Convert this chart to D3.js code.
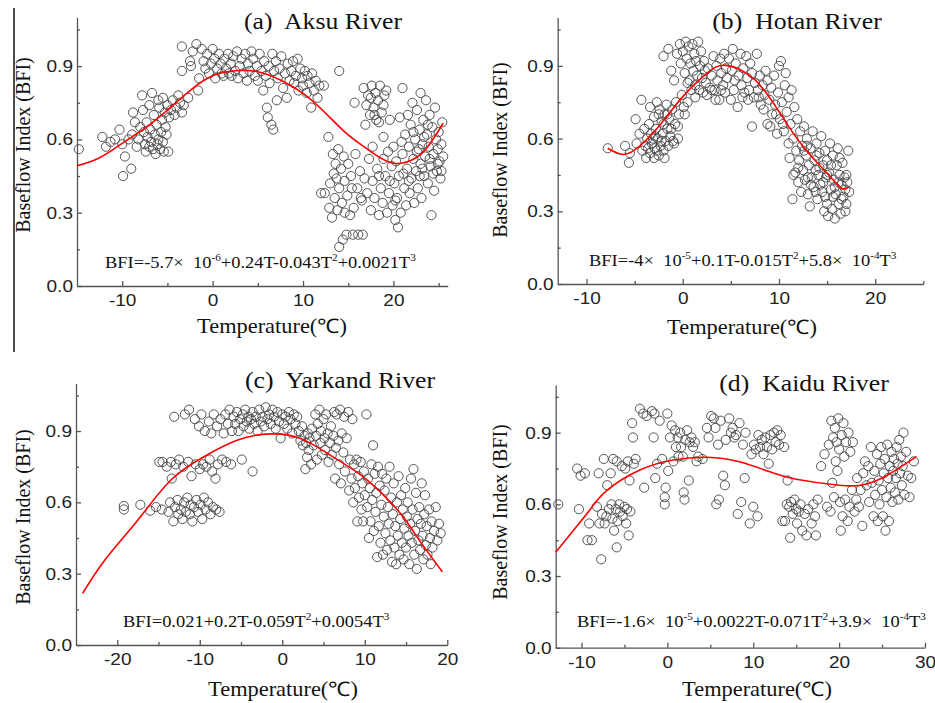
<!DOCTYPE html>
<html lang="en">
<head>
<meta charset="UTF-8">
<title>Baseflow index vs temperature</title>
<script src="https://d3js.org/d3.v7.min.js"></script>
<style>
  body { margin: 0; background: #ffffff; }
  svg { display: block; }
  .serif { font-family: "Liberation Serif", "Times New Roman", serif; fill: #111; }
  .axis path, .axis line { stroke: #555; stroke-width: 1.3; }
  .axis text { font-family: "Liberation Sans", Arial, sans-serif; font-size: 17px; fill: #222; }
</style>
</head>
<body>
<svg id="chart" width="935" height="703"></svg>
<script>
// ---- data: [temperature, BFI] ----
const aksuPoints = [[-14.8,0.56],[-12.2,0.61],[-11.8,0.57],[-11.3,0.59],[-10.8,0.60],[-10.3,0.64],[-10.0,0.58],[-9.9,0.45],[-9.7,0.53],[-9.3,0.60],[-9.0,0.48],[-8.9,0.62],[-8.8,0.71],[-8.6,0.67],[-8.4,0.57],[-8.2,0.60],[-8.0,0.65],[-7.8,0.78],[-7.7,0.72],[-7.6,0.63],[-7.5,0.58],[-7.4,0.55],[-7.3,0.67],[-7.2,0.61],[-7.0,0.57],[-7.0,0.74],[-6.9,0.64],[-6.8,0.59],[-6.7,0.79],[-6.6,0.56],[-6.5,0.70],[-6.4,0.62],[-6.3,0.54],[-6.2,0.66],[-6.1,0.58],[-6.0,0.76],[-6.0,0.60],[-5.9,0.73],[-5.8,0.56],[-5.7,0.63],[-5.6,0.68],[-5.5,0.77],[-5.5,0.59],[-5.4,0.55],[-5.3,0.71],[-5.2,0.65],[-5.1,0.62],[-5.0,0.74],[-4.9,0.55],[-4.8,0.69],[-4.6,0.72],[-4.4,0.76],[-4.2,0.70],[-4.0,0.73],[-3.8,0.78],[-3.6,0.75],[-3.4,0.71],[-3.2,0.74],
  [-3.4,0.98],[-3.4,0.88],[-2.7,0.77],[-2.5,0.92],[-2.4,0.90],[-2.2,0.96],[-1.8,0.99],[-1.6,0.80],[-1.5,0.85],[-1.2,0.97],[-1.0,0.92],[-0.8,0.89],[-0.6,0.95],[-0.4,0.87],[-0.2,0.91],[0.0,0.97],[0.2,0.93],[0.3,0.85],[0.5,0.89],[0.7,0.95],[0.9,0.91],[1.0,0.87],[1.2,0.86],[1.3,0.93],[1.5,0.89],[1.7,0.95],[1.8,0.87],[2.0,0.91],[2.1,0.86],[2.3,0.94],[2.5,0.88],[2.7,0.96],[2.8,0.85],[3.0,0.90],[3.2,0.93],[3.4,0.87],[3.6,0.95],[3.8,0.84],[3.9,0.91],[4.1,0.88],[4.3,0.96],[4.5,0.93],[4.7,0.86],[4.9,0.90],[5.0,0.84],[5.2,0.95],[5.4,0.88],[5.6,0.80],[5.7,0.92],[5.9,0.86],[6.0,0.73],[6.1,0.69],[6.2,0.90],[6.3,0.83],[6.5,0.66],[6.6,0.95],[6.7,0.64],[6.8,0.88],[7.0,0.92],[7.1,0.76],[7.2,0.85],[7.4,0.89],[7.6,0.94],[7.8,0.81],[8.0,0.87],[8.2,0.77],[8.3,0.91],[8.5,0.84],[8.7,0.88],[8.9,0.92],[9.0,0.83],[9.2,0.86],[9.4,0.93],[9.5,0.80],[9.7,0.89],[9.9,0.85],[10.0,0.82],[10.2,0.88],[10.4,0.79],[10.5,0.86],[10.7,0.83],[10.9,0.73],[11.0,0.87],[11.2,0.80],[11.4,0.84],[11.6,0.77],[11.8,0.82],[12.3,0.82],[14.0,0.88],
  [12.0,0.38],[12.4,0.38],[12.8,0.61],[12.9,0.32],[13.0,0.42],[13.2,0.28],[13.3,0.54],[13.4,0.46],[13.5,0.36],[13.6,0.50],[13.8,0.31],[13.9,0.56],[14.0,0.16],[14.0,0.40],[14.2,0.48],[14.3,0.34],[14.4,0.19],[14.5,0.53],[14.6,0.43],[14.8,0.21],[14.9,0.37],[15.0,0.50],[15.2,0.29],[15.3,0.45],[15.5,0.21],[15.6,0.32],[15.7,0.75],[15.8,0.54],[16.0,0.40],[16.1,0.21],[16.3,0.47],[16.5,0.35],[16.6,0.21],[16.7,0.81],[16.8,0.44],[16.9,0.66],[17.0,0.74],[17.1,0.38],[17.2,0.78],[17.3,0.52],[17.4,0.70],[17.5,0.31],[17.6,0.82],[17.7,0.43],[17.8,0.73],[17.9,0.36],[18.0,0.79],[18.1,0.68],[18.2,0.48],[18.3,0.76],[18.4,0.29],[18.5,0.82],[18.6,0.40],[18.7,0.71],[18.8,0.34],[18.9,0.61],[19.0,0.78],[19.1,0.45],[19.2,0.80],[19.3,0.30],[19.4,0.55],[19.5,0.38],[19.6,0.68],[19.8,0.49],[19.9,0.33],[20.0,0.57],[20.1,0.42],[20.2,0.27],[20.3,0.51],[20.4,0.36],[20.5,0.24],[20.6,0.45],[20.7,0.69],[20.8,0.30],[21.0,0.81],[21.0,0.54],[21.2,0.40],[21.3,0.62],[21.4,0.33],[21.5,0.48],[21.6,0.70],[21.7,0.57],[21.8,0.38],[21.9,0.66],[22.0,0.44],[22.1,0.75],[22.2,0.52],[22.3,0.34],[22.4,0.60],[22.5,0.47],[22.6,0.72],[22.7,0.40],[22.8,0.56],[22.9,0.64],[23.0,0.79],[23.0,0.50],[23.1,0.36],[23.2,0.58],[23.3,0.68],[23.4,0.45],[23.5,0.53],[23.6,0.76],[23.7,0.62],[23.8,0.42],[23.9,0.57],[24.0,0.70],[24.1,0.49],[24.2,0.29],[24.3,0.65],[24.4,0.54],[24.5,0.39],[24.6,0.73],[24.7,0.60],[24.8,0.47],[24.9,0.56],[25.0,0.63],[25.1,0.51],[25.2,0.44],[25.3,0.47],[25.4,0.67],[25.5,0.53],
  [21.1,0.46],[21.7,0.43],[22.2,0.63],[22.9,0.45],[23.4,0.61],[23.8,0.66],[24.4,0.46],[24.9,0.50],[25.3,0.58],[24.0,0.52],[23.2,0.48],[22.6,0.55],[20.9,0.59],[20.2,0.35],[19.6,0.43],[18.9,0.52],[18.4,0.45],[17.7,0.57],[16.4,0.36],[15.4,0.40],[14.6,0.30],[13.7,0.44],[17.9,0.70],[18.4,0.67],[18.9,0.74],[17.5,0.77]];

const hotanPoints = [[-7.8,0.56],[-6.0,0.57],[-5.6,0.50],[-5.5,0.54],[-4.9,0.68],[-4.8,0.58],[-4.5,0.62],[-4.3,0.76],[-4.2,0.55],[-4.0,0.64],[-3.9,0.57],[-3.8,0.52],[-3.7,0.60],[-3.5,0.66],[-3.4,0.54],[-3.3,0.62],[-3.2,0.58],[-3.0,0.52],[-3.0,0.69],[-2.9,0.56],[-2.8,0.64],[-2.7,0.75],[-2.6,0.60],[-2.5,0.53],[-2.4,0.72],[-2.3,0.57],[-2.2,0.67],[-2.1,0.62],[-2.0,0.94],[-2.0,0.55],[-1.9,0.70],[-1.8,0.59],[-1.7,0.74],[-1.6,0.64],[-1.5,0.97],[-1.5,0.57],[-1.4,0.68],[-1.3,0.61],[-1.2,0.88],[-1.1,0.72],[-1.0,0.59],[-0.9,0.84],[-0.8,0.66],[-0.7,0.75],[-0.6,0.95],[-0.5,0.65],[-0.4,0.70],[-0.3,0.99],[-0.2,0.91],[-0.1,0.78],[0.0,0.96],[0.1,0.73],[0.2,0.87],[0.3,1.0],[0.4,0.93],[0.5,0.75],[0.6,0.98],[0.7,0.84],[0.8,0.91],[0.9,0.80],[1.0,0.99],[1.1,0.88],[1.2,0.95],[1.3,0.82],[1.4,0.92],[1.5,0.86],[1.6,1.0],[1.7,0.80],[1.8,0.90],[1.9,0.96],[2.0,0.85],[2.1,0.79],[2.2,0.92],[2.3,0.88],[2.4,0.83],[2.6,0.89],[2.8,0.81],[3.0,0.86],[3.2,0.94],[3.3,0.80],[3.5,0.90],[3.6,0.84],[3.8,0.76],[3.9,0.93],[4.0,0.87],[4.2,0.82],[4.3,0.95],[4.5,0.89],[4.6,0.85],[4.8,0.93],[5.0,0.76],[5.1,0.88],[5.2,0.97],[5.4,0.84],[5.5,0.91],[5.7,0.73],[5.8,0.86],[6.0,0.95],[6.1,0.82],[6.3,0.89],[6.4,0.79],[6.6,0.94],[6.7,0.85],[6.9,0.80],[7.0,0.91],[7.2,0.65],[7.2,0.87],[7.4,0.77],[7.5,0.83],[7.7,0.95],[7.8,0.80],[8.0,0.86],[8.1,0.74],[8.3,0.82],[8.5,0.78],[8.6,0.88],[8.8,0.66],[8.8,0.84],[9.0,0.76],[9.2,0.81],[9.3,0.70],[9.5,0.86],[9.6,0.74],[9.8,0.62],[9.9,0.79],[10.0,0.90],[10.1,0.68],[10.2,0.92],[10.3,0.75],[10.5,0.63],[10.6,0.82],[10.7,0.87],[10.8,0.71],[11.0,0.58],[11.0,0.77],[11.2,0.66],[11.3,0.80],[11.4,0.35],[11.5,0.60],[11.6,0.73],[11.7,0.46],[11.8,0.55],[11.9,0.68],[12.0,0.42],[12.1,0.51],[12.2,0.63],[12.3,0.38],[12.4,0.57],[12.5,0.47],[12.6,0.65],[12.7,0.43],[12.8,0.53],[12.9,0.60],[13.0,0.37],[13.1,0.49],[13.2,0.32],[13.3,0.56],[13.4,0.44],[13.5,0.63],[13.6,0.40],[13.7,0.51],[13.8,0.47],[13.9,0.58],[14.0,0.35],[14.1,0.45],[14.2,0.54],[14.3,0.41],[14.4,0.61],[14.5,0.38],[14.6,0.49],[14.7,0.30],[14.8,0.55],[14.9,0.44],[15.0,0.33],[15.0,0.51],[15.1,0.28],[15.2,0.46],[15.3,0.58],[15.4,0.39],[15.5,0.31],[15.6,0.53],[15.7,0.43],[15.8,0.27],[15.9,0.37],[16.0,0.49],[16.1,0.56],[16.2,0.33],[16.3,0.45],[16.4,0.29],[16.5,0.41],[16.6,0.50],[16.7,0.36],[16.8,0.44],[16.9,0.39],[17.0,0.33],[17.1,0.42],[17.2,0.55],[17.3,0.38],
  [-3.6,0.56],[-3.1,0.60],[-2.7,0.55],[-2.2,0.59],[-1.9,0.52],[-1.2,0.64],[-0.9,0.58],[-0.5,0.60],[-2.5,0.70],[-2.0,0.66],[-1.6,0.70],[-3.4,0.73],[-2.9,0.61],[0.2,0.70],[0.5,0.83],[1.3,0.77],[2.5,0.78],[3.0,0.80],[3.4,0.76],[4.0,0.80],[4.4,0.79],[5.3,0.80],[6.2,0.77],[6.8,0.76],[7.9,0.77],[8.4,0.72],[9.1,0.65],[9.7,0.70],[10.4,0.66],[11.1,0.52],[11.5,0.45],[12.0,0.48],[12.6,0.55],[13.0,0.44],[13.3,0.41],[13.8,0.38],[14.2,0.48],[14.6,0.42],[15.0,0.45],[15.4,0.49],[15.8,0.40],[16.2,0.42],[16.5,0.35],[16.9,0.30],[17.0,0.45],[16.3,0.52],[15.6,0.36],[14.8,0.36],[13.9,0.53],[12.9,0.57]];

const yarkandPoints = [[-19.2,0.57],[-19.2,0.585],[-17.2,0.59],[-16.0,0.565],[-15.3,0.58],[-14.6,0.57],[-14.9,0.77],[-14.5,0.77],[-14.0,0.75],[-13.8,0.56],[-13.6,0.60],[-13.5,0.77],[-13.4,0.70],[-13.2,0.52],[-13.1,0.96],[-13.0,0.58],[-12.9,0.76],[-12.7,0.61],[-12.6,0.55],[-12.5,0.78],[-12.3,0.57],[-12.1,0.53],[-12.0,0.75],[-11.9,0.60],[-11.8,0.97],[-11.7,0.56],[-11.5,0.62],[-11.4,0.77],[-11.3,0.99],[-11.2,0.55],[-11.1,0.59],[-11.0,0.71],[-10.9,0.52],[-10.7,0.58],[-10.6,0.95],[-10.5,0.76],[-10.4,0.61],[-10.2,0.56],[-10.1,0.92],[-10.0,0.74],[-9.9,0.59],[-9.8,0.97],[-9.7,0.53],[-9.6,0.76],[-9.5,0.62],[-9.4,0.90],[-9.3,0.57],[-9.2,0.75],[-9.0,0.60],[-8.9,0.94],[-8.8,0.78],[-8.7,0.55],[-8.6,0.89],[-8.5,0.73],[-8.4,0.58],[-8.3,0.97],[-8.1,0.70],[-8.0,0.57],[-7.9,0.92],[-7.8,0.76],[-7.6,0.56],[-7.5,0.95],[-7.3,0.78],[-7.1,0.89],[-6.9,0.97],[-6.8,0.77],[-6.6,0.93],[-6.4,0.99],[-6.2,0.76],[-6.1,0.90],[-5.9,0.96],[-5.7,0.93],[-5.5,0.98],[-5.3,0.90],[-5.1,0.95],[-4.9,0.78],[-4.8,0.97],[-4.7,0.92],[-4.5,0.99],[-4.3,0.94],[-4.1,0.96],[-4.0,0.91],[-3.8,0.95],[-3.6,0.73],[-3.6,0.98],[-3.4,0.93],[-3.2,0.96],[-3.0,0.90],[-2.8,0.99],[-2.6,0.94],[-2.4,0.96],[-2.2,0.92],[-2.0,1.0],[-1.8,0.95],[-1.6,0.97],[-1.4,0.93],[-1.2,0.99],[-1.0,0.96],[-0.8,0.91],[-0.6,0.98],[-0.4,0.94],[-0.2,0.87],[0.0,0.97],[0.2,0.93],[0.4,0.96],[0.6,0.91],[0.8,0.98],[1.0,0.95],[1.2,0.89],[1.4,0.97],[1.6,0.93],[1.8,0.96],[2.0,0.90],[2.2,0.86],[2.4,0.92],[2.5,0.84],[2.7,0.88],[2.8,0.74],[2.9,0.85],[3.0,0.79],[3.1,0.89],[3.2,0.82],[3.3,0.87],[3.5,0.76],[3.6,0.91],[3.8,0.84],[4.0,0.97],[4.1,0.88],[4.2,0.78],[4.3,0.93],[4.5,0.99],[4.6,0.85],[4.7,0.90],[4.8,0.80],[5.0,0.95],[5.1,0.87],[5.2,0.82],[5.3,0.97],[5.5,0.89],[5.6,0.77],[5.8,0.85],[5.9,0.92],[6.0,0.80],[6.2,0.88],[6.3,0.98],[6.4,0.70],[6.5,0.83],[6.6,0.97],[6.8,0.86],[6.9,0.76],[7.0,0.99],[7.1,0.68],[7.2,0.89],[7.4,0.81],[7.5,0.96],[7.6,0.73],[7.8,0.87],[8.0,0.98],[8.1,0.65],[8.2,0.78],[8.4,0.70],[8.5,0.95],[8.6,0.60],[8.7,0.76],[8.8,0.66],[9.0,0.78],[9.1,0.52],[9.2,0.71],[9.3,0.62],[9.5,0.77],[9.6,0.57],[9.7,0.68],[9.8,0.52],[9.9,0.73],[10.0,0.63],[10.2,0.97],[10.3,0.58],[10.4,0.70],[10.5,0.45],[10.6,0.66],[10.7,0.52],[10.8,0.76],[10.9,0.61],[11.0,0.84],[11.1,0.48],[11.2,0.72],[11.3,0.56],[11.4,0.64],[11.5,0.37],[11.6,0.75],[11.7,0.50],[11.8,0.67],[11.9,0.43],[12.0,0.59],[12.1,0.72],[12.2,0.38],[12.3,0.54],[12.4,0.65],[12.5,0.47],[12.6,0.70],[12.7,0.40],[12.8,0.58],[12.9,0.51],[13.0,0.75],[13.1,0.44],[13.2,0.62],[13.3,0.35],[13.4,0.55],[13.5,0.68],[13.6,0.41],[13.7,0.50],[13.8,0.34],[13.9,0.60],[14.0,0.46],[14.1,0.71],[14.2,0.38],[14.3,0.53],[14.4,0.63],[14.5,0.43],[14.6,0.57],[14.7,0.36],[14.8,0.49],[14.9,0.66],[15.0,0.41],[15.1,0.54],[15.2,0.60],[15.3,0.46],[15.4,0.34],[15.5,0.51],[15.6,0.70],[15.7,0.43],[15.8,0.57],[15.9,0.74],[16.0,0.38],[16.1,0.48],[16.2,0.64],[16.3,0.32],[16.4,0.53],[16.5,0.44],[16.6,0.58],[16.7,0.40],[16.8,0.51],[16.9,0.68],[17.0,0.46],[17.1,0.36],[17.2,0.55],[17.3,0.63],[17.4,0.42],[17.5,0.50],[17.6,0.38],[17.8,0.57],[17.9,0.45],[18.0,0.34],[18.1,0.52],[18.2,0.41],[18.4,0.48],[18.6,0.58],[18.8,0.44],[19.0,0.51],[19.2,0.47]];

const kaiduPoints = [[-12.7,0.60],[-10.5,0.75],[-10.3,0.58],[-10.1,0.72],[-9.6,0.73],[-9.3,0.45],[-9.1,0.52],[-8.8,0.45],[-8.2,0.59],[-8.0,0.73],[-7.9,0.52],[-7.7,0.37],[-7.6,0.56],[-7.4,0.79],[-7.3,0.52],[-7.1,0.55],[-7.0,0.68],[-6.8,0.58],[-6.6,0.73],[-6.5,0.60],[-6.4,0.54],[-6.3,0.79],[-6.2,0.49],[-6.0,0.58],[-5.9,0.42],[-5.9,0.78],[-5.8,0.53],[-5.6,0.60],[-5.5,0.57],[-5.3,0.76],[-5.2,0.55],[-5.0,0.59],[-4.9,0.75],[-4.8,0.52],[-4.7,0.58],[-4.6,0.78],[-4.5,0.47],[-4.4,0.70],[-4.3,0.57],[-4.1,0.94],[-4.0,0.88],[-3.9,0.77],[-3.7,0.79],[-3.2,1.0],[-2.8,0.98],[-2.7,0.67],[-2.4,0.97],[-1.8,0.99],[-1.6,0.88],[-1.5,0.98],[-1.4,0.71],[-1.2,0.77],[-0.9,0.95],[-0.6,0.79],[-0.3,0.60],[-0.3,0.63],[-0.2,0.67],[0.0,0.98],[0.1,0.74],[0.3,0.88],[0.5,0.93],[0.7,0.78],[0.9,0.91],[1.0,0.84],[1.2,0.88],[1.3,0.80],[1.5,0.90],[1.6,0.84],[1.8,0.80],[1.9,0.65],[2.0,0.62],[2.1,0.87],[2.3,0.91],[2.5,0.70],[2.6,0.86],[2.8,0.88],[3.0,0.84],[3.2,0.86],[3.4,0.78],[3.6,0.80],[4.1,0.79],[4.6,0.92],[4.8,0.88],[5.1,0.97],[5.4,0.96],[5.6,0.92],[5.7,0.60],[5.9,0.85],[6.0,0.62],[6.2,0.95],[6.5,0.72],[6.7,0.68],[6.8,0.87],[7.2,0.96],[7.4,0.90],[7.6,0.92],[7.8,0.88],[8.0,0.89],[8.2,0.56],[8.4,0.94],[8.6,0.61],[8.8,0.85],[9.0,0.71],[9.1,0.90],[9.6,0.52],[9.8,0.81],[10.0,0.59],[10.1,0.85],[10.3,0.83],[10.5,0.55],[10.6,0.89],[10.8,0.84],[11.0,0.87],[11.2,0.81],[11.4,0.88],[11.6,0.84],[11.8,0.77],[12.0,0.89],[12.2,0.83],[12.4,0.90],[12.6,0.86],[12.8,0.91],[13.0,0.85],[13.2,0.89],[13.6,0.84],[13.4,0.53],[13.7,0.53],[13.9,0.60],[14.0,0.70],[14.2,0.59],[14.3,0.46],[14.4,0.61],[14.6,0.56],[14.8,0.62],[15.0,0.58],[15.1,0.52],[15.3,0.57],[15.5,0.60],[15.7,0.49],[16.0,0.56],[16.2,0.47],[16.4,0.58],[16.8,0.52],[17.0,0.60],[17.2,0.55],[17.3,0.47],[17.5,0.62],[17.9,0.76],[18.3,0.81],[18.6,0.59],[18.8,0.85],[19.0,0.57],[19.1,0.95],[19.2,0.69],[19.3,0.88],[19.4,0.63],[19.5,0.92],[19.6,0.78],[19.7,0.86],[19.8,0.74],[19.9,0.96],[20.0,0.83],[20.1,0.61],[20.2,0.49],[20.3,0.89],[20.4,0.55],[20.5,0.94],[20.6,0.80],[20.7,0.62],[20.8,0.86],[21.0,0.53],[21.1,0.90],[21.2,0.59],[21.3,0.82],[21.5,0.66],[21.6,0.86],[21.8,0.57],[22.0,0.62],[22.1,0.71],[22.3,0.59],[22.5,0.66],[22.7,0.51],[22.8,0.73],[23.0,0.78],[23.2,0.68],[23.4,0.76],[23.5,0.61],[23.7,0.84],[23.8,0.69],[24.0,0.55],[24.1,0.74],[24.2,0.64],[24.4,0.81],[24.5,0.53],[24.6,0.70],[24.7,0.60],[24.8,0.77],[24.9,0.84],[25.0,0.66],[25.1,0.55],[25.2,0.73],[25.3,0.79],[25.4,0.49],[25.5,0.63],[25.6,0.85],[25.7,0.71],[25.8,0.53],[25.9,0.76],[26.0,0.67],[26.1,0.82],[26.2,0.61],[26.3,0.74],[26.4,0.79],[26.5,0.65],[26.6,0.71],[26.7,0.84],[26.8,0.77],[26.9,0.62],[27.0,0.87],[27.1,0.73],[27.2,0.80],[27.3,0.68],[27.4,0.76],[27.5,0.90],[27.6,0.64],[27.8,0.82],[28.0,0.72],[28.2,0.63],[28.4,0.71],[28.7,0.78]];

// fitted curves, sampled off the red lines
const aksuCurve = [[-15,0.492],[-12.5,0.525],[-10,0.584],[-7.5,0.646],[-5,0.72],[-2.5,0.80],[0,0.86],[2.5,0.881],[5,0.877],[7.5,0.843],[10,0.788],[12.5,0.707],[15,0.618],[17.5,0.55],[20,0.502],[22.5,0.525],[24,0.58],[25.5,0.666]];
const hotanCurve = [[-7.8,0.56],[-6.5,0.536],[-5,0.553],[-2.5,0.65],[0,0.773],[2.5,0.869],[4.5,0.902],[7.5,0.842],[10,0.711],[12.5,0.567],[15,0.457],[16.5,0.395],[17.2,0.40]];
const yarkandCurve = [[-24.2,0.217],[-21.5,0.358],[-17.5,0.526],[-13.5,0.694],[-9.5,0.792],[-5.4,0.862],[-1.4,0.888],[2.4,0.866],[6.2,0.79],[10.3,0.694],[14.3,0.554],[16.3,0.456],[19.4,0.308]];
const kaiduCurve = [[-13,0.40],[-10.9,0.493],[-8.9,0.583],[-7.0,0.66],[-3.2,0.744],[0.7,0.786],[4.6,0.797],[8.4,0.778],[12,0.735],[15,0.705],[20,0.68],[22.5,0.68],[25,0.71],[29,0.80]];

// equations: [text, isSuperscript]
const aksuEq = [["BFI=-5.7×  10",0],["-6",1],["+0.24T-0.043T",0],["2",1],["+0.0021T",0],["3",1]];
const hotanEq = [["BFI=-4×  10",0],["-5",1],["+0.1T-0.015T",0],["2",1],["+5.8×  10",0],["-4",1],["T",0],["3",1]];
const yarkandEq = [["BFI=0.021+0.2T-0.059T",0],["2",1],["+0.0054T",0],["3",1]];
const kaiduEq = [["BFI=-1.6×  10",0],["-5",1],["+0.0022T-0.071T",0],["2",1],["+3.9×  10",0],["-4",1],["T",0],["3",1]];

const titles = ["(a)  Aksu River", "(b)  Hotan River", "(c)  Yarkand River", "(d)  Kaidu River"];
const yLabel = "Baseflow Index (BFI)";
const xLabel = "Temperature(℃)";
const yDomain = [0, 1.1];
const yTicks = [0, 0.3, 0.6, 0.9];
const yMinor = [0.15, 0.45, 0.75, 1.05];

const SX = 1.12; // the source figure is a little wide

const svg = d3.select("#chart");

// stray rule at the left edge of the figure
svg.append("line").attr("x1", 14).attr("x2", 14).attr("y1", 8).attr("y2", 352)
    .attr("stroke", "#111").attr("stroke-width", 1.5);

const panels = [
    { title: titles[0], pts: aksuPoints, fit: aksuCurve, eq: aksuEq, xDomain: [-15, 26], xTicks: [-10, 0, 10, 20], xMinor: [-5, 5, 15, 25],
      left: 77, right: 447.7, bottom: 286, top: 17.2, titleX: 323, titleY: 29, eqX: 105, eqY: 268, ylabX: 30, ylabY: 145, xlabX: 272, xlabY: 333 },
    { title: titles[1], pts: hotanPoints, fit: hotanCurve, eq: hotanEq, xDomain: [-13, 25], xTicks: [-10, 0, 10, 20], xMinor: [-5, 5, 15, 25],
      left: 557.7, right: 923.3, bottom: 284, top: 17.4, titleX: 797, titleY: 29, eqX: 589, eqY: 266, ylabX: 506.5, ylabY: 150, xlabX: 742, xlabY: 334 },
    { title: titles[2], pts: yarkandPoints, fit: yarkandCurve, eq: yarkandEq, xDomain: [-25, 20], xTicks: [-20, -10, 0, 10, 20], xMinor: [-15, -5, 5, 15],
      left: 76, right: 447.3, bottom: 645, top: 383.5, titleX: 340, titleY: 388, eqX: 123, eqY: 627, ylabX: 30, ylabY: 517, xlabX: 283, xlabY: 696 },
    { title: titles[3], pts: kaiduPoints, fit: kaiduCurve, eq: kaiduEq, xDomain: [-13, 30], xTicks: [-10, 0, 10, 20, 30], xMinor: [-5, 5, 15, 25],
      left: 555.7, right: 925, bottom: 647.7, top: 384.9, titleX: 804, titleY: 391, eqX: 577, eqY: 627, ylabX: 506.5, ylabY: 512, xlabX: 757, xlabY: 696 }
];

function drawPanel(p) {
    const x = d3.scaleLinear().domain(p.xDomain).range([p.left, p.right]);
    const y = d3.scaleLinear().domain(yDomain).range([p.bottom, p.top]);
    const g = svg.append("g");

    // x axis, ticks point inward
    g.append("g").attr("class", "axis").attr("transform", `translate(0,${p.bottom})`)
        .call(d3.axisBottom(x).tickValues(p.xTicks).tickSizeInner(-5).tickSizeOuter(0).tickPadding(8).tickFormat(d => String(d)))
        .call(s => s.selectAll("text").attr("transform", `scale(${SX},1)`));
    g.append("g").attr("class", "axis").attr("transform", `translate(0,${p.bottom})`)
        .call(d3.axisBottom(x).tickValues(p.xMinor).tickSize(-3).tickFormat(""))
        .call(s => s.select(".domain").remove());

    // y axis
    g.append("g").attr("class", "axis").attr("transform", `translate(${p.left},0)`)
        .call(d3.axisLeft(y).tickValues(yTicks).tickSizeInner(-5).tickSizeOuter(0).tickPadding(3.6).tickFormat(d3.format(".1f")))
        .call(s => s.selectAll("text").attr("transform", `scale(${SX},1)`));
    g.append("g").attr("class", "axis").attr("transform", `translate(${p.left},0)`)
        .call(d3.axisLeft(y).tickValues(yMinor).tickSize(-3).tickFormat(""))
        .call(s => s.select(".domain").remove());

    // scatter
    g.append("g").selectAll("circle").data(p.pts).enter().append("circle")
        .attr("cx", d => x(d[0])).attr("cy", d => y(d[1])).attr("r", 4.6)
        .attr("fill", "none").attr("stroke", "#444").attr("stroke-width", 0.9);

    // fitted curve
    const line = d3.line().x(d => x(d[0])).y(d => y(d[1])).curve(d3.curveNatural);
    g.append("path").datum(p.fit).attr("d", line)
        .attr("fill", "none").attr("stroke", "#ff0000").attr("stroke-width", 1.6);

    // title
    g.append("text").attr("class", "serif").attr("text-anchor", "middle")
        .attr("transform", `translate(${p.titleX},${p.titleY}) scale(${SX},1)`)
        .style("white-space", "pre").style("font-size", "23px").text(p.title);

    // equation with superscripts
    const eq = g.append("text").attr("class", "serif")
        .attr("transform", `translate(${p.eqX},${p.eqY}) scale(${SX},1)`)
        .style("white-space", "pre").style("font-size", "16.5px");
    let raised = false;
    p.eq.forEach(([txt, sup]) => {
        const t = eq.append("tspan").text(txt);
        if (sup && !raised) { t.attr("dy", -7).style("font-size", "10px"); raised = true; }
        else if (sup) { t.style("font-size", "10px"); }
        else if (raised) { t.attr("dy", 7); raised = false; }
    });

    // axis titles
    g.append("text").attr("class", "serif").attr("text-anchor", "middle")
        .attr("transform", `translate(${p.ylabX},${p.ylabY}) rotate(-90)`)
        .style("font-size", "20px").text(yLabel);
    g.append("text").attr("class", "serif").attr("text-anchor", "middle")
        .attr("transform", `translate(${p.xlabX},${p.xlabY}) scale(${SX},1)`)
        .style("font-size", "20px").text(xLabel);
}

panels.forEach(drawPanel);
</script>
</body>
</html>
